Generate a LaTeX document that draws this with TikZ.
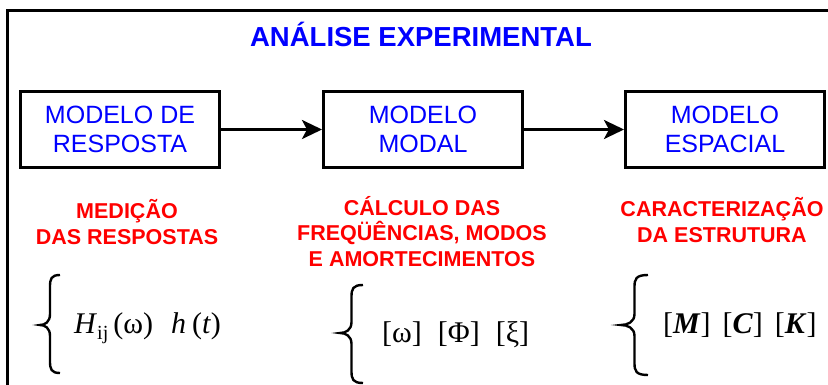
\documentclass[tikz,border=0pt]{standalone}
\usepackage{fontspec}
\setmainfont{Liberation Sans}
\newfontfamily\eqfont{Liberation Serif}
\usetikzlibrary{arrows.meta,positioning}
\definecolor{boxblue}{RGB}{0,0,255}
\definecolor{notered}{RGB}{255,0,0}

\begin{document}
\begin{tikzpicture}[x=1pt,y=-1pt,>={Stealth[length=20pt,width=19pt,inset=5pt]},line join=miter]
\tikzset{
  modelbox/.style={draw,line width=3pt,minimum width=199pt,minimum height=76pt,inner sep=0pt,align=center,text=boxblue,font=\fontsize{25}{29}\selectfont},
  note/.style={anchor=base,align=center,text=notered,font=\bfseries\fontsize{21.5}{25.5}\selectfont},
  eq/.style={anchor=base west,inner sep=0pt,font=\eqfont\fontsize{30}{32}\selectfont}
}
\useasboundingbox (0,0) rectangle (828,385);
% outer frame, open to the right and bottom
\draw[line width=3pt] (7,395) -- (7,11) -- (840,11);
\node[anchor=base,text=boxblue,font=\bfseries\fontsize{27.5}{30}\selectfont] (title) at (421,47) {ANÁLISE EXPERIMENTAL};
% the three models
\node[modelbox] (resp) at (120,129.5) {MODELO DE\\RESPOSTA};
\node[modelbox,right=101pt of resp] (modal) {MODELO\\MODAL};
\node[modelbox,right=100pt of modal] (spatial) {MODELO\\ESPACIAL};
\draw[->,line width=3pt] (resp) -- (modal);
\draw[->,line width=3pt] (modal) -- (spatial);
% what each step yields (base = last line)
\node[note] (respnote) at (127,244) {MEDIÇÃO\\DAS RESPOSTAS};
\node[note] (modalnote) at (422,266) {CÁLCULO DAS\\FREQÜÊNCIAS, MODOS\\E AMORTECIMENTOS};
\node[note] (spatialnote) at (722,242) {CARACTERIZAÇÃO\\DA ESTRUTURA};
\foreach \bx/\bw/\btop/\bmid/\bbot in {40/20/275/325/373, 340/23/285/333/383, 621/27/275/325/375}
  \draw[line width=2.4pt]
    (\bx+\bw,\btop) .. controls (\bx+0.55*\bw,\btop) and (\bx+0.5*\bw,\btop+4) .. (\bx+0.5*\bw,\btop+12)
    -- (\bx+0.5*\bw,\bmid-11) .. controls (\bx+0.5*\bw,\bmid-3) and (\bx+0.25*\bw,\bmid) .. (\bx,\bmid)
    .. controls (\bx+0.25*\bw,\bmid) and (\bx+0.5*\bw,\bmid+3) .. (\bx+0.5*\bw,\bmid+11)
    -- (\bx+0.5*\bw,\bbot-12) .. controls (\bx+0.5*\bw,\bbot-4) and (\bx+0.55*\bw,\bbot) .. (\bx+\bw,\bbot);
\node[eq] (respeq) at (74,333) {\textit{H}\raisebox{-6pt}{\fontsize{20}{20}\selectfont ij}\hspace{5pt}(ω)\hspace{18pt}\textit{h}\hspace{6pt}(\textit{t})};
\node[eq] (modaleq) at (382,342) {[ω]\hspace{16pt}[Φ]\hspace{16pt}[ξ]};
\node[eq] (spatialeq) at (663,333) {[\textbf{\textit{M}}]\hspace{12pt}[\textbf{\textit{C}}]\hspace{12pt}[\textbf{\textit{K}}]};
\end{tikzpicture}
\end{document}
